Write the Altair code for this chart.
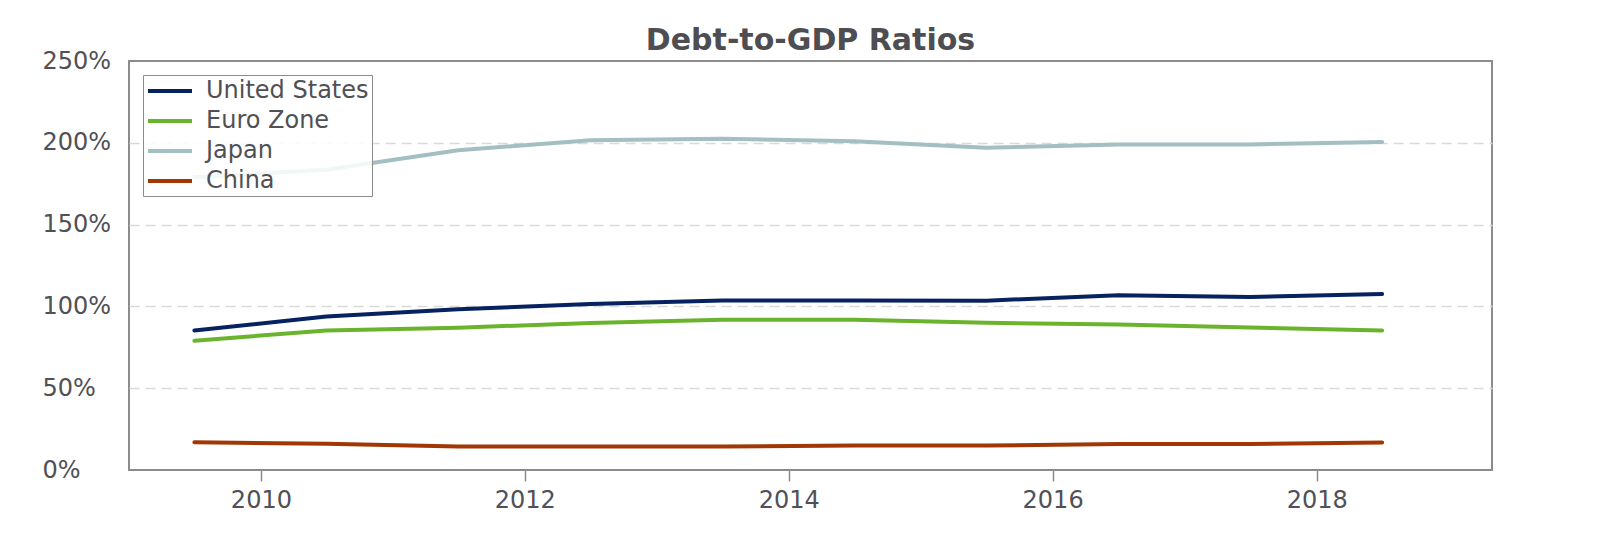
import altair as alt
import pandas as pd

dates = ["2009-07-01", "2010-07-01", "2011-07-01", "2012-07-01", "2013-07-01",
         "2014-07-01", "2015-07-01", "2016-07-01", "2017-07-01", "2018-07-01"]
united_states = [85.3, 93.8, 98.3, 101.5, 103.6, 103.6, 103.5, 106.8, 105.7, 107.6]
euro_zone = [79.0, 85.3, 87.0, 89.8, 91.8, 91.8, 90.0, 89.0, 87.1, 85.3]
japan = [179.0, 183.5, 195.5, 201.5, 202.5, 201.0, 197.0, 199.0, 199.0, 200.5]
china = [17.0, 16.0, 14.3, 14.3, 14.3, 14.9, 14.9, 15.9, 15.9, 16.8]

series_names = ["United States", "Euro Zone", "Japan", "China"]
series_colors = ["#062261", "#6ab42d", "#a4bfc2", "#a13704"]
x_tick_years = [2010, 2012, 2014, 2016, 2018]
y_ticks = [0, 50, 100, 150, 200, 250]

rows = []
for name, vals in zip(series_names, [united_states, euro_zone, japan, china]):
    for d, v in zip(dates, vals):
        rows.append({"date": d, "country": name, "ratio": v})
df = pd.DataFrame(rows)

font = "DejaVu Sans"
text_color = "#505055"

chart = (
    alt.Chart(df)
    .mark_line(strokeWidth=4, strokeCap="round", strokeJoin="round")
    .encode(
        x=alt.X(
            "date:T",
            scale=alt.Scale(
                type="utc",
                domain=[
                    alt.DateTime(year=2009, month=1, date=1, utc=True),
                    alt.DateTime(year=2019, month=5, date=1, utc=True),
                ],
            ),
            axis=alt.Axis(
                values=[alt.DateTime(year=y, month=1, date=1, utc=True) for y in x_tick_years],
                format="%Y",
                title=None,
                grid=False,
                domain=False,
                ticks=True,
                tickSize=11,
                tickColor="#8c8c8c",
                tickWidth=1.5,
                labelPadding=7,
                labelFontSize=24,
                labelFont=font,
                labelColor=text_color,
            ),
        ),
        y=alt.Y(
            "ratio:Q",
            scale=alt.Scale(domain=[0, 250], nice=False),
            axis=alt.Axis(
                values=y_ticks,
                labelExpr="datum.value + '%'",
                title=None,
                domain=False,
                ticks=False,
                tickSize=0,
                labelAlign="left",
                labelPadding=87,
                labelFontSize=24,
                labelFont=font,
                labelColor=text_color,
                grid=True,
                gridColor="#d9d9d9",
                gridDash=[10, 6],
                gridWidth=1.5,
                gridOpacity={
                    "condition": {"test": "datum.value <= 0 || datum.value >= 250", "value": 0},
                    "value": 1,
                },
            ),
        ),
        color=alt.Color(
            "country:N",
            scale=alt.Scale(domain=series_names, range=series_colors),
            legend=alt.Legend(
                title=None,
                orient="top-left",
                offset=14,
                fillColor="rgba(255,255,255,0.85)",
                strokeColor="#8c8c8c",
                padding=3,
                rowPadding=5,
                symbolType="M-1,0H3",
                symbolSize=484,
                symbolStrokeWidth=4,
                labelOffset=34,
                labelLimit=400,
                labelFontSize=24,
                labelFont=font,
                labelColor=text_color,
            ),
        ),
    )
    .properties(
        width=1363,
        height=409,
        title=alt.TitleParams(
            "Debt-to-GDP Ratios",
            fontSize=30,
            fontWeight="bold",
            font=font,
            color="#4d4d52",
            anchor="middle",
            baseline="alphabetic",
            offset=-31,
        ),
        autosize=alt.AutoSizeParams(type="none"),
        padding={"left": 121, "top": 53, "right": 110, "bottom": 66},
    )
    .configure(background="white")
    .configure_view(stroke="#8c8c8c", strokeWidth=2)
)

chart.save("out.html", embed_options={"renderer": "svg", "actions": False})
